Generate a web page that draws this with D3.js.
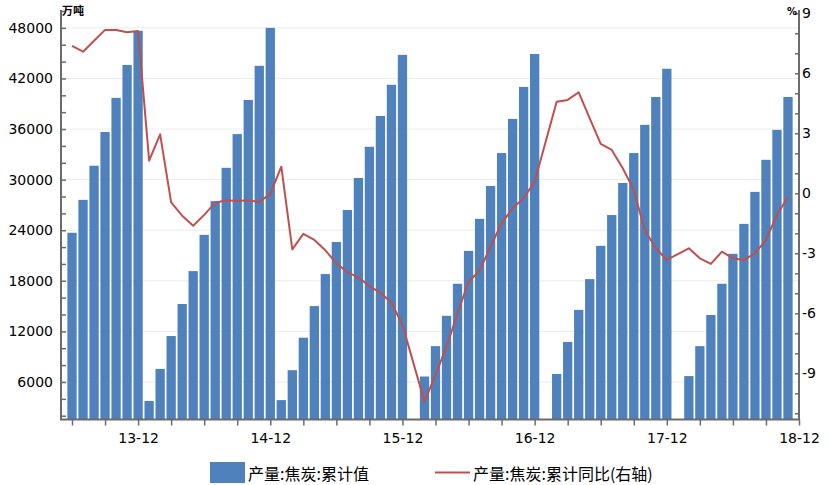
<!DOCTYPE html>
<html>
<head>
<meta charset="utf-8">
<script src="https://cdn.jsdelivr.net/npm/d3@7"></script>
<style>
  html, body { margin: 0; padding: 0; background: #fff; }
  svg { display: block; }
  text { font-family: "DejaVu Sans", Verdana, sans-serif; }
</style>
</head>
<body>
<svg id="chart" width="829" height="485"></svg>
<script>
// ---- data ----
const months = [
  "13-06","13-07","13-08","13-09","13-10","13-11","13-12",
  "14-01","14-02","14-03","14-04","14-05","14-06","14-07","14-08","14-09","14-10","14-11","14-12",
  "15-01","15-02","15-03","15-04","15-05","15-06","15-07","15-08","15-09","15-10","15-11","15-12",
  "16-01","16-02","16-03","16-04","16-05","16-06","16-07","16-08","16-09","16-10","16-11","16-12",
  "17-01","17-02","17-03","17-04","17-05","17-06","17-07","17-08","17-09","17-10","17-11","17-12",
  "18-01","18-02","18-03","18-04","18-05","18-06","18-07","18-08","18-09","18-10","18-11"
];
const cumOutput = [
  23700, 27600, 31650, 35650, 39700, 43600, 47650,
  3750, 7550, 11450, 15250, 19150, 23450, 27450, 31400, 35400, 39450, 43500, 48000,
  3850, 7400, 11250, 15000, 18800, 22600, 26400, 30200, 33900, 37550, 41250, 44800,
  null, 6650, 10250, 13850, 17650, 21550, 25350, 29250, 33150, 37200, 41000, 44900,
  null, 6950, 10750, 14550, 18200, 22150, 25800, 29600, 33150, 36500, 39800, 43150,
  null, 6700, 10250, 13950, 17650, 21200, 24750, 28550, 32350, 35900, 39800
];
const cumYoY = [
  7.37, 7.08, 7.63, 8.17, 8.17, 8.05, 8.12,
  1.63, 2.95, -0.45, -1.12, -1.62, -1.08, -0.47, -0.35, -0.38, -0.35, -0.43, -0.03,
  1.33, -2.8, -2.03, -2.33, -2.85, -3.5, -3.95, -4.2, -4.65, -4.97, -5.47, -6.58,
  null, -10.42, -9.08, -7.67, -6.0, -4.42, -3.87, -2.67, -1.5, -0.75, -0.25, 0.58,
  null, 4.58, 4.67, 5.05, 3.75, 2.47, 2.17, 1.25, 0.17, -1.85, -2.75, -3.33,
  null, -2.75, -3.25, -3.53, -2.92, -3.25, -3.33, -3.0, -2.33, -1.08, -0.17
];
const xAxisMonths = ["13-05"].concat(months).concat(["18-12"]);
const xTickLabels = ["13-12","14-12","15-12","16-12","17-12","18-12"];
const leftMajorTicks = [6000, 12000, 18000, 24000, 30000, 36000, 42000, 48000];
const rightMajorTicks = [-9, -6, -3, 0, 3, 6, 9];
const seriesNames = ["产量:焦炭:累计值", "产量:焦炭:累计同比(右轴)"];
const unitLeft = "万吨", unitRight = "%";

// ---- layout ----
const L = 61, R = 799, T = 11, B = 419.5;
const barColor = "#4F81BD", lineColor = "#C0504D", axisColor = "#6b6b6b";

const svg = d3.select("#chart");

const x = d3.scaleLinear().domain([0, xAxisMonths.length - 1]).range([L, R]);
const xi = m => xAxisMonths.indexOf(m);
const yL = d3.scaleLinear().domain([1550, 50000]).range([B, T]);
const yR = d3.scaleLinear().domain([-11.31, 9.115]).range([B, T]);

// gridlines
svg.append("g").selectAll("line").data(leftMajorTicks).join("line")
  .attr("x1", L).attr("x2", R)
  .attr("y1", d => yL(d)).attr("y2", d => yL(d))
  .attr("stroke", "#ebebeb").attr("stroke-width", 1);

// bars
const bw = 9.3;
const barData = months.map((m, i) => ({m, v: cumOutput[i]})).filter(d => d.v != null);
svg.append("g").selectAll("rect").data(barData).join("rect")
  .attr("x", d => x(xi(d.m)) - bw / 2)
  .attr("width", bw)
  .attr("y", d => yL(d.v))
  .attr("height", d => B - yL(d.v))
  .attr("fill", barColor);

// line
const lineData = months.map((m, i) => ({m, v: cumYoY[i]})).filter(d => d.v != null);
svg.append("path").datum(lineData)
  .attr("fill", "none").attr("stroke", lineColor).attr("stroke-width", 2)
  .attr("stroke-linejoin", "round")
  .attr("d", d3.line().x(d => x(xi(d.m))).y(d => yR(d.v)));

function styleAxis(g) {
  g.select(".domain").attr("stroke", axisColor).attr("stroke-width", 2);
  g.selectAll(".tick line").attr("stroke", axisColor).attr("stroke-width", 1.5);
  g.selectAll(".tick text").attr("fill", "#000").style("font-size", "14px")
    .style("font-family", "'DejaVu Sans', Verdana, sans-serif");
}

// left axis (minor ticks)
const leftMinor = d3.range(2000, 50001, 2000);
svg.append("g").attr("transform", `translate(${L},0)`)
  .call(d3.axisLeft(yL).tickValues(leftMinor).tickSizeInner(-5).tickSizeOuter(0).tickPadding(8)
    .tickFormat(d => leftMajorTicks.includes(d) ? d : ""))
  .call(styleAxis)
  .call(g => g.select(".domain").attr("d", `M0,${B}V${T - 1}`));

// right axis
const rightMinor = d3.range(-11, 10, 1);
svg.append("g").attr("transform", `translate(${R},0)`)
  .call(d3.axisRight(yR).tickValues(rightMinor).tickSizeInner(-4).tickSizeOuter(0).tickPadding(3)
    .tickFormat(d => rightMajorTicks.includes(d) ? d : ""))
  .call(styleAxis)
  .call(g => g.select(".domain").attr("d", `M0,${B}V${T - 1}`));

// bottom axis
const xTickIdx = d3.range(1, xAxisMonths.length, 3);
svg.append("g").attr("transform", `translate(0,${B})`)
  .call(d3.axisBottom(x).tickValues(xTickIdx).tickSizeInner(6).tickSizeOuter(0).tickPadding(8)
    .tickFormat(i => xTickLabels.includes(xAxisMonths[i]) ? xAxisMonths[i] : ""))
  .call(styleAxis)
  .call(g => g.select(".domain").attr("d", `M${L - 1},0H${R + 1}`));

// units
svg.append("text").attr("x", 62).attr("y", 15).text(unitLeft)
  .style("font-family", "'Noto Sans CJK SC', sans-serif").style("font-size", "11px").style("font-weight", "bold");
svg.append("text").attr("x", 797).attr("y", 15).attr("text-anchor", "end").text(unitRight)
  .style("font-size", "10px").style("font-weight", "bold");

// legend
const lg = svg.append("g");
lg.append("rect").attr("x", 210).attr("y", 462).attr("width", 35).attr("height", 21).attr("fill", barColor);
lg.append("text").attr("x", 248).attr("y", 473).attr("dominant-baseline", "central").text(seriesNames[0])
  .style("font-family", "'Noto Sans CJK SC', sans-serif").style("font-size", "16px");
lg.append("line").attr("x1", 435).attr("x2", 470).attr("y1", 472.5).attr("y2", 472.5)
  .attr("stroke", lineColor).attr("stroke-width", 2);
lg.append("text").attr("x", 473).attr("y", 473).attr("dominant-baseline", "central").text(seriesNames[1])
  .style("font-family", "'Noto Sans CJK SC', sans-serif").style("font-size", "16px");
</script>
</body>
</html>
